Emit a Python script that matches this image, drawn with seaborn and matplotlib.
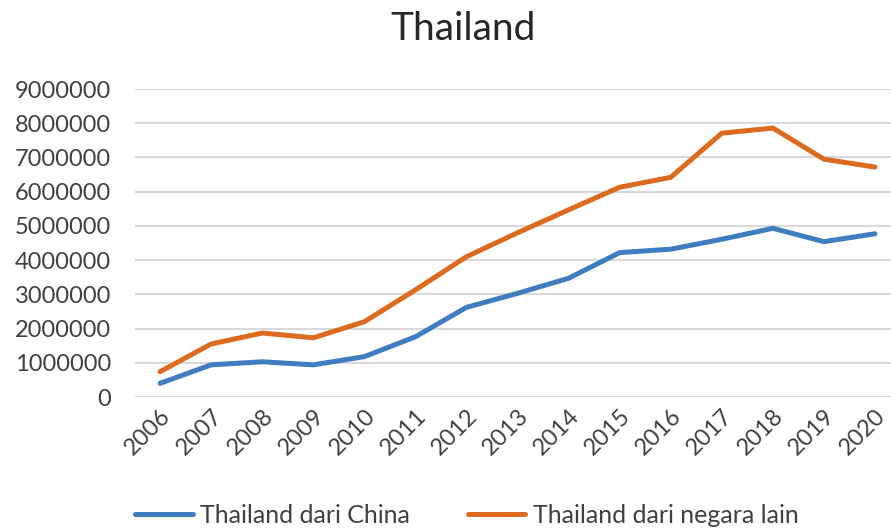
import seaborn as sns
import matplotlib.pyplot as plt
import pandas as pd

years = [str(y) for y in range(2006, 2021)]
dari_china = [400000, 940000, 1030000, 940000, 1180000, 1760000, 2620000, 3030000,
              3470000, 4220000, 4320000, 4610000, 4930000, 4540000, 4770000]
dari_lain = [740000, 1550000, 1870000, 1730000, 2200000, 3130000, 4100000, 4800000,
             5470000, 6130000, 6420000, 7710000, 7860000, 6950000, 6720000]
series_names = ["Thailand dari China", "Thailand dari negara lain"]
y_ticks = list(range(0, 9000001, 1000000))

df = pd.DataFrame({"Tahun": years, series_names[0]: dari_china, series_names[1]: dari_lain})
long = df.melt(id_vars="Tahun", var_name="Seri", value_name="Jumlah")

sns.set_style("white")
plt.rcParams['font.family'] = ['Lato', 'DejaVu Sans']

fig = plt.figure(figsize=(8.91, 5.29), dpi=100)
ax = fig.add_axes([0.151, 0.2495, 0.8597, 0.5822])

sns.lineplot(data=long, x="Tahun", y="Jumlah", hue="Seri", sort=False,
             palette=["#3F7DC0", "#DC6B1F"], linewidth=3.6, ax=ax, legend=False)

ax.set_xlim(-0.5, len(years) - 0.5)
ax.set_ylim(0, 9000000)
ax.set_yticks(y_ticks)
ax.set_yticklabels([str(v) for v in y_ticks], fontsize=17, color="#404040")
ax.yaxis.grid(True, color="#D9D9D9", linewidth=1.5)
ax.set_axisbelow(True)
for s in ax.spines.values():
    s.set_visible(False)
ax.tick_params(axis="y", length=0, pad=17)
ax.tick_params(axis="x", length=0, pad=6)
ax.set_xticks(range(len(years)))
ax.set_xticklabels(years, rotation=45, ha="right", rotation_mode="anchor",
                   fontsize=17, color="#404040")
ax.set_xlabel("")
ax.set_ylabel("")

fig.text(0.52, 0.945, "Thailand", ha="center", va="center", fontsize=28, color="#262626")

handles = [plt.Line2D([], [], color=c, linewidth=3.6) for c in ["#3F7DC0", "#DC6B1F"]]
fig.legend(handles, series_names, loc="center", bbox_to_anchor=(0.524, 0.026), ncol=2,
           frameon=False, fontsize=18, handlelength=2.3, columnspacing=2.3,
           handletextpad=0.3, labelcolor="#404040")

fig.savefig("out.png", dpi=100)
